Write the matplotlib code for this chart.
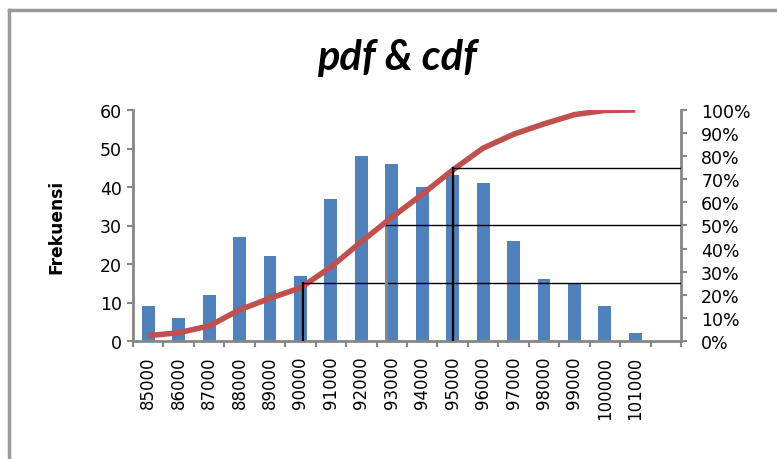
import matplotlib
matplotlib.use("Agg")
import matplotlib.pyplot as plt
from matplotlib.lines import Line2D
import numpy as np

plt.rcParams["font.family"] = ["DejaVu Sans"]

# ---- data ----
bins = ["85000", "86000", "87000", "88000", "89000", "90000", "91000", "92000",
        "93000", "94000", "95000", "96000", "97000", "98000", "99000", "100000", "101000"]
freq = [9, 6, 12, 27, 22, 17, 37, 48, 46, 40, 43, 41, 26, 16, 15, 9, 2]
cdf_pct = [2.3, 3.6, 6.5, 13.5, 18.5, 23, 32, 43, 53.5, 63.5, 74, 83.5, 89.5, 94, 98, 99.8, 100]
quart_levels = [0.25, 0.50, 0.75]
quart_values = [90100, 92800, 95000]
n_slots = 18

BAR = "#4F81BD"
LINE = "#C0504D"
AXC = "#868686"

fig = plt.figure(figsize=(7.77, 4.60), dpi=100)
ax = fig.add_axes([133/777, 118/460, (681-133)/777, (342-111)/460])
ax2 = ax.twinx()

x = np.arange(len(bins))
ax.bar(x, freq, width=0.42, color=BAR, zorder=2)
ax.set_ylim(0, 60)
ax.set_xlim(-0.5, n_slots - 0.5)
ax.set_yticks(np.arange(0, 61, 10))

ax2.set_ylim(0, 1)
ax2.set_yticks(np.linspace(0, 1, 11))
ax2.set_yticklabels([f"{int(round(v*100))}%" for v in np.linspace(0, 1, 11)])
ax2.plot(x, np.array(cdf_pct) / 100, color=LINE, lw=4.0, solid_capstyle="butt", zorder=3)

# quartile guide lines
for lvl, val in zip(quart_levels, quart_values):
    xi = (val - 85000) / 1000
    col = AXC if lvl == 0.5 else "black"
    ax2.plot([xi, xi], [0, lvl], color=col, lw=1.6 if lvl != 0.5 else 2.2, zorder=4)
    ax2.plot([xi, n_slots - 0.5], [lvl, lvl], color="black", lw=1.0, zorder=4)

# x ticks: labels at centres, marks at boundaries
ax.set_xticks(x)
ax.set_xticklabels(bins, rotation=90, fontsize=12, color="black")
ax.tick_params(axis="x", length=0, pad=10.5)
ax.set_xticks(np.arange(-0.5, n_slots, 1), minor=True)
ax.tick_params(axis="x", which="minor", length=4.5, width=1.5, color=AXC, direction="out")

ax.tick_params(axis="y", labelsize=12.5, length=4.5, width=1.5, color=AXC, direction="out", pad=3.5)
ax2.tick_params(axis="y", labelsize=12.5, length=4.5, width=1.5, color=AXC, direction="out", pad=10)

for a in (ax, ax2):
    a.spines["top"].set_visible(False)
    for s in ("left", "right", "bottom"):
        a.spines[s].set_color(AXC)
        a.spines[s].set_linewidth(2)
ax.spines["right"].set_visible(False)
ax2.spines["left"].set_visible(False)
ax2.spines["bottom"].set_visible(False)

fig.text(56/777, 1 - 227/460, "Frekuensi", rotation=90, ha="center", va="center",
         fontsize=12.3, fontweight="bold", family="DejaVu Sans")

fig.text(397/777, 1 - 58/460, "pdf & cdf", ha="center", va="center",
         fontsize=30, fontweight="bold", fontstyle="italic", family="Lato")

# chart frame (left and top edges visible)
fig.add_artist(Line2D([9/777, 9/777], [0, 1 - 11/460], transform=fig.transFigure,
                      color="#9A9A9A", lw=2.5))
fig.add_artist(Line2D([9/777, 1], [1 - 11/460, 1 - 11/460], transform=fig.transFigure,
                      color="#9A9A9A", lw=2.5))

fig.savefig("out.png", dpi=100)
